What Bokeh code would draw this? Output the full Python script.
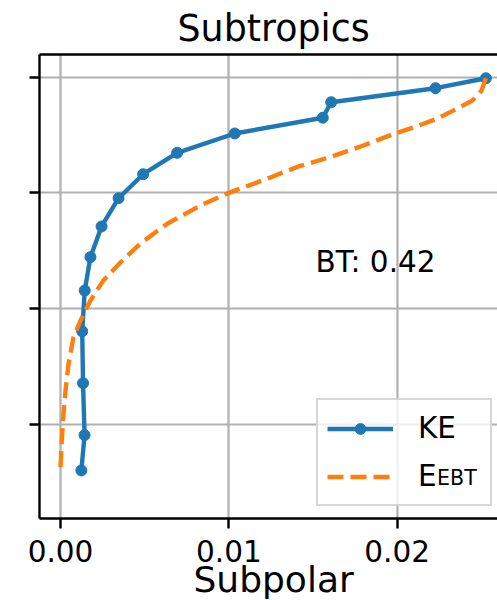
from bokeh.plotting import figure
from bokeh.models import Range1d, FixedTicker, LinearAxis, Legend, LegendItem, Label, Title
from bokeh.embed import file_html
from bokeh.resources import INLINE

FONT = "DejaVu Sans"

# Kinetic energy profile: Subpolar value (x) against vertical level (y)
ke_x = [0.02527, 0.02228, 0.01608, 0.01558, 0.01035, 0.00693, 0.00491, 0.00345,
        0.00244, 0.00178, 0.00144, 0.00129, 0.00134, 0.00143, 0.00124]
ke_y = [2.990, 2.904, 2.783, 2.649, 2.513, 2.346, 2.161, 1.954,
        1.710, 1.445, 1.157, 0.805, 0.357, -0.092, -0.397]

# Equivalent-barotropic energy profile
ebt_x = [0.02527, 0.02501, 0.02447, 0.02346, 0.02239, 0.02097, 0.01978, 0.01800,
         0.01604, 0.01414, 0.01230, 0.01000, 0.00832, 0.00636, 0.00475, 0.00356,
         0.00255, 0.00178, 0.00119, 0.00077, 0.00048, 0.00030, 0.00015, 0.00006, 0.0]
ebt_y = [2.990, 2.884, 2.798, 2.720, 2.642, 2.565, 2.509, 2.409,
         2.310, 2.228, 2.124, 2.000, 1.891, 1.736, 1.563, 1.399,
         1.244, 1.071, 0.898, 0.751, 0.527, 0.294, 0.035, -0.181, -0.371]

x_ticks = [0.0, 0.01, 0.02]
x_tick_labels = ["0.00", "0.01", "0.02"]
y_ticks = [0, 1, 2, 3]

bt_text = "BT: 0.42"

p = figure(
    width=497, height=600,
    output_backend="svg", toolbar_location=None,
    x_range=Range1d(-0.001247, 0.02596),
    y_range=Range1d(-0.812, 3.195),
    min_border_left=39, min_border_right=0,
    min_border_top=54, min_border_bottom=82,
    title="Subtropics",
)
p.outline_line_color = None
p.background_fill_color = "white"
p.border_fill_color = "white"

p.title.text_font = FONT
p.title.text_font_size = "36.4px"
p.title.text_font_style = "normal"
p.title.text_color = "black"
p.title.align = "left"
p.title.offset = 138
p.title.standoff = 9

# bottom axis
xa = p.xaxis[0]
xa.ticker = FixedTicker(ticks=x_ticks)
xa.major_label_overrides = dict(zip(x_ticks, x_tick_labels))
xa.axis_line_width = 2.4
xa.axis_line_color = "black"
xa.major_tick_out = 10
xa.major_tick_in = 0
xa.major_tick_line_width = 2.4
xa.minor_tick_line_color = None
xa.major_label_text_font = FONT
xa.major_label_text_font_size = "29.5px"
xa.major_label_text_color = "black"
xa.major_label_standoff = 11

# x-axis title, placed under the tick labels
xtitle = Title(text="Subpolar", align="left", offset=154, standoff=-16,
               text_font=FONT, text_font_size="36px", text_font_style="normal",
               text_color="black")
p.add_layout(xtitle, "below")

# left axis: ticks only, labels hidden
ya = p.yaxis[0]
ya.ticker = FixedTicker(ticks=y_ticks)
ya.axis_line_width = 2.4
ya.axis_line_color = "black"
ya.major_tick_out = 10
ya.major_tick_in = 0
ya.major_tick_line_width = 2.4
ya.minor_tick_line_color = None
ya.major_label_text_color = None

# top spine
top = LinearAxis(ticker=FixedTicker(ticks=[]), axis_line_width=2.4, axis_line_color="black",
                 major_tick_out=0, major_tick_in=0, minor_tick_out=0, minor_tick_in=0,
                 minor_tick_line_color=None,
                 major_label_text_color=None, major_label_standoff=0)
p.add_layout(top, "above")

p.xgrid.ticker = FixedTicker(ticks=x_ticks)
p.ygrid.ticker = FixedTicker(ticks=y_ticks)
p.grid.grid_line_color = "#b0b0b0"
p.grid.grid_line_width = 2.2

ke_line = p.line(ke_x, ke_y, line_color="#1f77b4", line_width=4.4)
ke_pts = p.scatter(ke_x, ke_y, size=11, fill_color="#1f77b4", line_color="#1f77b4")
ebt_line = p.line(ebt_x, ebt_y, line_color="#ff7f0e", line_width=4.4, line_dash="16 7")

legend = Legend(
    items=[LegendItem(label="KE", renderers=[ke_line, ke_pts]),
           LegendItem(label="E", renderers=[ebt_line])],
    location=(277, 12), margin=0, padding=9, spacing=10,
    glyph_width=66, glyph_height=27, label_height=38, label_width=63,
    label_standoff=25,
    label_text_font=FONT, label_text_font_size="29.5px", label_text_color="black",
    border_line_color="#cccccc", border_line_alpha=0.8, border_line_width=2,
    background_fill_color="white", background_fill_alpha=0.8,
)
p.add_layout(legend)

# subscript of the second legend entry, drawn as a bare label-only legend on top
sub = Legend(
    items=[LegendItem(label="EBT", renderers=[ebt_line])],
    location=(398, 28), margin=0, padding=0, spacing=0,
    glyph_width=0, glyph_height=20, label_height=20, label_standoff=0,
    label_text_font=FONT, label_text_font_size="20.6px", label_text_color="black",
    border_line_color=None, background_fill_alpha=0,
)
p.add_layout(sub)

p.add_layout(Label(x=0.01515, y=1.405, text=bt_text, text_font=FONT,
                   text_font_size="29.5px", text_color="black", text_baseline="alphabetic"))

open("out.html", "w").write(file_html(p, INLINE))
